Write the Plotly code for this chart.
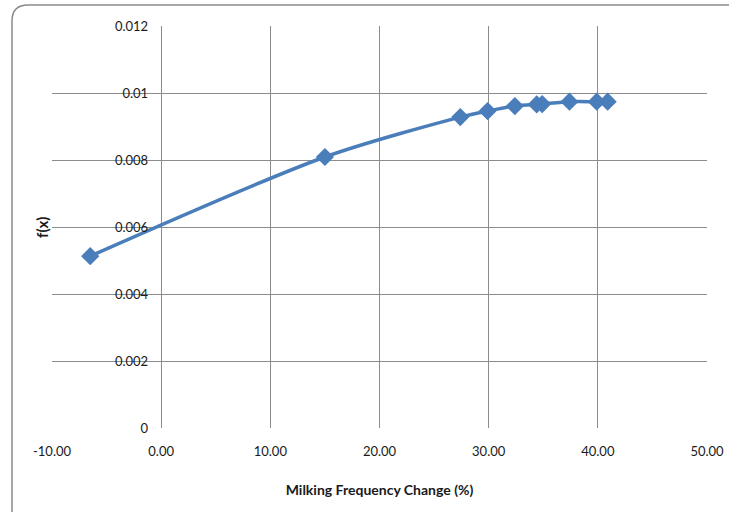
import plotly.graph_objects as go

# Milking frequency change (%) and the corresponding f(x) values
milking_change = [-6.5, 15.0, 27.4, 29.9, 32.4, 34.4, 34.9, 37.4, 39.9, 40.9]
fx_values = [0.00513, 0.00809, 0.00928, 0.00946, 0.00961, 0.00966, 0.00967, 0.00974, 0.00974, 0.00974]

x_tick_vals = [-10, 0, 10, 20, 30, 40, 50]
x_tick_text = ["-10.00", "0.00", "10.00", "20.00", "30.00", "40.00", "50.00"]
y_tick_vals = [0, 0.002, 0.004, 0.006, 0.008, 0.01, 0.012]
y_tick_text = ["0", "0.002", "0.004", "0.006", "0.008", "0.01", "0.012"]

W, H = 729, 512
L, R, T, B = 52, 22, 26, 84
pw, ph = W - L - R, H - T - B

def px(x):
    return (x - L) / pw

def py(y):
    return (H - B - y) / ph

FONT = "Lato, Liberation Sans Narrow, sans-serif"
GRID = "#8c8c8c"
BLUE = "#4a7ebb"

fig = go.Figure()
fig.add_trace(go.Scatter(
    x=milking_change, y=fx_values,
    mode="lines+markers",
    line=dict(color=BLUE, width=3.5, shape="spline", smoothing=0.8),
    marker=dict(symbol="diamond", size=14, color=BLUE),
    showlegend=False,
))

# Rounded chart-area frame
x0, y0, x1, y1, r = 12, 5, 745, 525, 16
path = (
    f"M {px(x0 + r)},{py(y0)} L {px(x1 - r)},{py(y0)} "
    f"Q {px(x1)},{py(y0)} {px(x1)},{py(y0 + r)} L {px(x1)},{py(y1 - r)} "
    f"Q {px(x1)},{py(y1)} {px(x1 - r)},{py(y1)} L {px(x0 + r)},{py(y1)} "
    f"Q {px(x0)},{py(y1)} {px(x0)},{py(y1 - r)} L {px(x0)},{py(y0 + r)} "
    f"Q {px(x0)},{py(y0)} {px(x0 + r)},{py(y0)} Z"
)
fig.add_shape(type="path", path=path, xref="paper", yref="paper",
              line=dict(color="#8a8a8a", width=1.5), layer="below")

fig.update_layout(
    width=W, height=H,
    margin=dict(l=L, r=R, t=T, b=B, autoexpand=False),
    paper_bgcolor="white", plot_bgcolor="white",
    font=dict(family=FONT, size=13, color="#1a1a1a"),
    xaxis=dict(
        range=[-10, 50], tickvals=x_tick_vals, ticktext=x_tick_text,
        showgrid=True, gridcolor=GRID, gridwidth=1, zeroline=False,
        showline=False, ticks="", ticklabelstandoff=14, automargin=False,
        tickfont=dict(size=13),
        title=dict(text="<b>Milking Frequency Change (%)</b>", font=dict(size=14), standoff=27),
    ),
    yaxis=dict(
        range=[0, 0.012], tickvals=y_tick_vals, ticktext=y_tick_text,
        showgrid=True, gridcolor=GRID, gridwidth=1, zeroline=False,
        showline=False, ticks="", anchor="free", position=1 / 6,
        ticklabelstandoff=13, automargin=False,
        tickfont=dict(size=13),
        title=dict(text=""),
    ),
    annotations=[dict(
        text="<b>f(x)</b>", textangle=-90, xref="paper", yref="paper",
        x=px(42), y=py(228), xanchor="center", yanchor="middle",
        showarrow=False, font=dict(size=15),
    )],
)

fig.write_html("out.html")
